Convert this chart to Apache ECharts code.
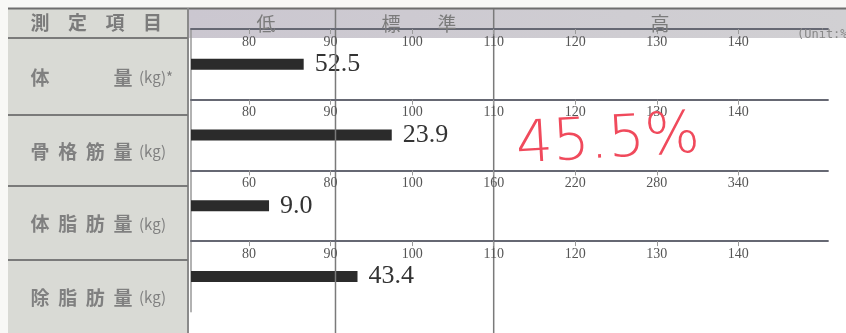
<!DOCTYPE html>
<html>
<head>
<meta charset="utf-8">
<script src="https://cdn.jsdelivr.net/npm/echarts@6/dist/echarts.min.js"></script>
<style>
html, body { margin: 0; padding: 0; background: #f8f8f6; }
#main { width: 846px; height: 333px; }
</style>
</head>
<body>
<div id="main"></div>
<script>
// 測定値
var rowNames = ['体量', '骨格筋量', '体脂肪量', '除脂肪量'];
var rowUnits = ['(kg)*', '(kg)', '(kg)', '(kg)'];
var rowValues = [52.5, 23.9, 9.0, 43.4];        // kg
var rowPercents = [86.7, 97.5, 64.9, 93.3];     // 標準に対する %
var ticksNormal = [80, 90, 100, 110, 120, 130, 140];
var ticksFat = [60, 80, 100, 160, 220, 280, 340];
var rowTicks = [ticksNormal, ticksNormal, ticksFat, ticksNormal];
var headerChars = ['測', '定', '項', '目'];
var bandNames = ['低', '標', '準', '高'];
var bandEdges = [90.6, 110];
var memo = '45.5%';

// 目盛は等間隔だが値は区間ごとに違うので、目盛番号(1..7)に換算する
function toPos(ticks, v) {
    var i = 0;
    while (i < ticks.length - 2 && v > ticks[i + 1]) {
        i++;
    }
    return 1 + i + (v - ticks[i]) / (ticks[i + 1] - ticks[i]);
}

var chart = echarts.init(document.getElementById('main'));

var grids = [], xAxes = [], yAxes = [], series = [];
var tickIdx = [1, 2, 3, 4, 5, 6, 7];
rowTicks.forEach(function (ticks, i) {
    grids.push({ left: 191, right: 18, top: 29 + i * 70.7, height: 70.7 });
    xAxes.push({
        gridIndex: i,
        type: 'value',
        position: 'top',
        min: 0.288,
        max: 8.1,
        z: 5,
        axisLine: { show: true, lineStyle: { color: '#666873', width: 1.8 } },
        axisTick: { show: true, inside: true, length: 5, customValues: tickIdx, lineStyle: { color: '#9a9a9a' } },
        axisLabel: {
            inside: true,
            margin: 6,
            customValues: tickIdx,
            formatter: function (v) { return ticks[Math.round(v) - 1]; },
            fontFamily: 'Liberation Serif',
            fontSize: 14,
            color: '#555'
        },
        splitLine: { show: false }
    });
    yAxes.push({
        gridIndex: i,
        type: 'category',
        data: [rowNames[i]],
        axisLine: { show: true, lineStyle: { color: '#999', width: 1.5 } },
        axisTick: { show: false },
        axisLabel: { show: false }
    });
    series.push({
        type: 'bar',
        xAxisIndex: i,
        yAxisIndex: i,
        barWidth: 11,
        clip: true,
        itemStyle: { color: '#2b2b2b' },
        label: {
            show: true,
            position: 'right',
            distance: 11,
            fontFamily: 'Liberation Serif',
            fontSize: 26,
            color: '#333',
            formatter: function () { return rowValues[i].toFixed(1); }
        },
        data: [toPos(ticks, rowPercents[i])]
    });
});

chart.setOption({
    animation: false,
    grid: grids,
    xAxis: xAxes,
    yAxis: yAxes,
    series: series
});

// 表の枠・見出し
var g = [];
var sepY = [38, 115, 186, 260];
g.push({ type: 'rect', z: -10, silent: true, shape: { x: 8, y: 9, width: 180, height: 324 }, style: { fill: '#d9dad5' } });
g.push({ type: 'rect', z: -10, silent: true, shape: { x: 188, y: 9, width: 658, height: 29 },
    style: { fill: new echarts.graphic.LinearGradient(0, 0, 1, 0, [{ offset: 0, color: '#cbc7d0' }, { offset: 1, color: '#d1d0d3' }]) } });
g.push({ type: 'rect', z: -10, silent: true, shape: { x: 189, y: 38, width: 657, height: 295 }, style: { fill: '#ffffff' } });
g.push({ type: 'line', z: 5, silent: true, shape: { x1: 8, y1: 8.5, x2: 846, y2: 8.5 }, style: { stroke: '#6e6e6e', lineWidth: 2 } });
g.push({ type: 'line', z: 5, silent: true, shape: { x1: 188, y1: 8, x2: 188, y2: 333 }, style: { stroke: '#8a8a8a', lineWidth: 2 } });
sepY.forEach(function (y) {
    g.push({ type: 'line', z: 5, silent: true, shape: { x1: 8, y1: y, x2: 188, y2: y }, style: { stroke: '#7a7a7a', lineWidth: 2 } });
});
bandEdges.forEach(function (v) {
    var x = chart.convertToPixel({ xAxisIndex: 0 }, toPos(ticksNormal, v));
    g.push({ type: 'line', z: 5, silent: true, shape: { x1: x, y1: 9, x2: x, y2: 333 }, style: { stroke: '#7a7a7a', lineWidth: 1.5 } });
});

var cjk = '"Noto Sans CJK JP", "Noto Sans CJK SC", sans-serif';
headerChars.forEach(function (c, i) {
    g.push({ type: 'text', z: 6, silent: true, x: 40 + i * 37.5, y: 23,
        style: { text: c, fontFamily: cjk, fontSize: 19, fontWeight: 'bold', fill: '#7b7b7b', align: 'center', verticalAlign: 'middle' } });
});
var bandX = [266, 391, 447, 660];
bandNames.forEach(function (c, i) {
    g.push({ type: 'text', z: 6, silent: true, x: bandX[i], y: 24,
        style: { text: c, fontFamily: cjk, fontSize: 19, fill: '#7b7b7b', align: 'center', verticalAlign: 'middle' } });
});
g.push({ type: 'text', z: 6, silent: true, x: 797, y: 35,
    style: { text: '(Unit:%)', fontFamily: 'DejaVu Sans Mono', fontSize: 12, fill: '#888', verticalAlign: 'middle' } });

rowNames.forEach(function (name, i) {
    var cy = (sepY[i] + (sepY[i + 1] || 333)) / 2 + 1;
    var chars = name.split('');
    chars.forEach(function (c, j) {
        g.push({ type: 'text', z: 6, silent: true, x: 40 + j * 83 / (chars.length - 1), y: cy,
            style: { text: c, fontFamily: cjk, fontSize: 19, fontWeight: 'bold', fill: '#808080', align: 'center', verticalAlign: 'middle' } });
    });
    g.push({ type: 'text', z: 6, silent: true, x: 139, y: cy,
        style: { text: rowUnits[i], fontFamily: cjk, fontSize: 15, fill: '#808080', verticalAlign: 'middle' } });
});

// 手書きのメモ
g.push({ type: 'text', z: 20, silent: true, x: 608, y: 142, rotation: 0.06,
    style: { text: memo, fontFamily: '"DejaVu Sans ExtraLight", "DejaVu Sans"', fontWeight: 200, fontSize: 58,
        fill: '#f04a5c', align: 'center', verticalAlign: 'middle' } });

chart.setOption({ graphic: g });
</script>
</body>
</html>
